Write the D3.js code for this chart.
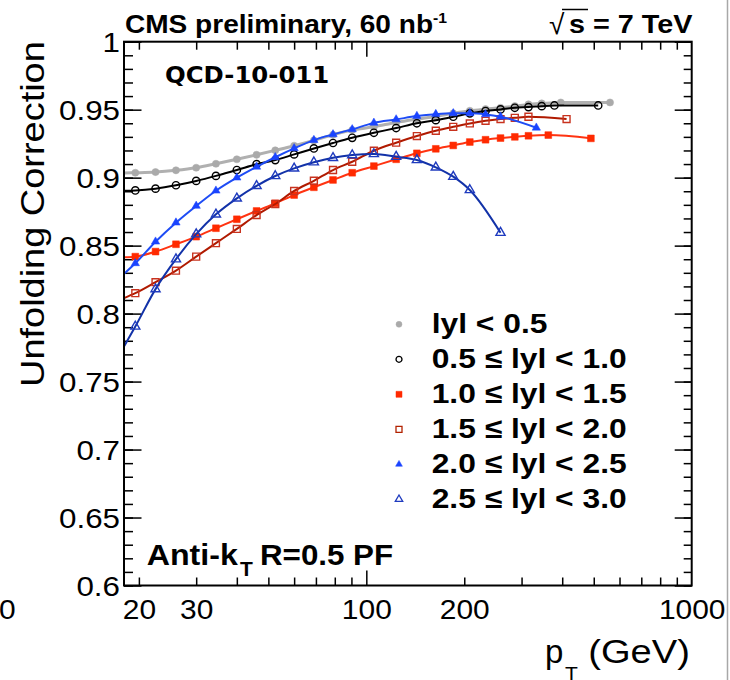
<!DOCTYPE html>
<html lang="en">
<head>
<meta charset="utf-8">
<title>Unfolding correction vs pT</title>
<script src="https://d3js.org/d3.v7.min.js"></script>
<style>
  body { margin: 0; background: #fff; }
  svg text { font-family: "Liberation Sans", Arial, Helvetica, sans-serif; fill: #000; }
</style>
</head>
<body>
<svg id="chart" width="730" height="680"></svg>
<script>
  // bin centres (GeV) and unfolding corrections, one pair of arrays per rapidity bin
  var ptY0 = [19.5, 22.5, 26, 30, 34.5, 40, 46, 52.5, 60, 69, 79, 90.5, 105.5, 123.5, 143, 163.5, 185, 208, 232.5, 258.5, 286, 315, 346, 396, 561];
  var corrY0 = [0.9036, 0.9041, 0.9054, 0.9073, 0.9102, 0.9135, 0.9168, 0.9201, 0.9235, 0.9274, 0.9315, 0.935, 0.9374, 0.9406, 0.943, 0.945, 0.9473, 0.9492, 0.9504, 0.9514, 0.9526, 0.9539, 0.9546, 0.9553, 0.9553];

  var ptY1 = [19.5, 22.5, 26, 30, 34.5, 40, 46, 52.5, 60, 69, 79, 90.5, 105.5, 123.5, 143, 163.5, 185, 208, 232.5, 258.5, 286, 315, 346, 378.5, 516];
  var corrY1 = [0.8906, 0.8919, 0.8944, 0.8976, 0.9013, 0.9056, 0.9099, 0.9129, 0.9171, 0.9215, 0.9255, 0.9293, 0.933, 0.9365, 0.94, 0.9423, 0.9448, 0.9473, 0.949, 0.9502, 0.9514, 0.9519, 0.9526, 0.9531, 0.9531];

  var ptY2 = [19.5, 22.5, 26, 30, 34.5, 40, 46, 52.5, 60, 69, 79, 90.5, 105.5, 123.5, 143, 163.5, 185, 208, 232.5, 258.5, 286, 315, 362.5, 490];
  var corrY2 = [0.8419, 0.8456, 0.851, 0.8566, 0.8628, 0.8694, 0.8755, 0.8811, 0.8872, 0.8929, 0.8983, 0.9036, 0.9085, 0.9135, 0.9179, 0.9212, 0.9237, 0.9262, 0.9279, 0.9291, 0.93, 0.9308, 0.9313, 0.9289];

  var ptY3 = [19.5, 22.5, 26, 30, 34.5, 40, 46, 52.5, 60, 69, 79, 90.5, 105.5, 123.5, 143, 163.5, 185, 208, 232.5, 258.5, 286, 315, 412.5];
  var corrY3 = [0.815, 0.8231, 0.8316, 0.8419, 0.8518, 0.8623, 0.8725, 0.8806, 0.8902, 0.8977, 0.9056, 0.9117, 0.9198, 0.9257, 0.9306, 0.9345, 0.9374, 0.9399, 0.9418, 0.9431, 0.944, 0.9448, 0.9431];

  var ptY4 = [19.5, 22.5, 26, 30, 34.5, 40, 46, 52.5, 60, 69, 79, 90.5, 105.5, 123.5, 143, 163.5, 185, 208, 232.5, 258.5, 333];
  var corrY4 = [0.837, 0.8529, 0.8669, 0.8792, 0.8904, 0.9, 0.908, 0.915, 0.9215, 0.9276, 0.9318, 0.9355, 0.9403, 0.9428, 0.9453, 0.9467, 0.9473, 0.9473, 0.9465, 0.9448, 0.9367];

  var ptY5 = [19.5, 22.5, 26, 30, 34.5, 40, 46, 52.5, 60, 69, 79, 90.5, 105.5, 123.5, 143, 163.5, 185, 208, 258.5];
  var corrY5 = [0.7905, 0.818, 0.84, 0.8584, 0.873, 0.8848, 0.894, 0.9012, 0.9068, 0.9113, 0.9146, 0.9166, 0.9174, 0.9154, 0.913, 0.9076, 0.9007, 0.8909, 0.8595];

  // value of each fit curve where it meets the left frame (pT = 18)
  var fitStart = [0.9034, 0.8904, 0.8415, 0.8114, 0.8292, 0.7758];

  var legendLabels = ["lyl < 0.5", "0.5 \u2264 lyl < 1.0", "1.0 \u2264 lyl < 1.5", "1.5 \u2264 lyl < 2.0", "2.0 \u2264 lyl < 2.5", "2.5 \u2264 lyl < 3.0"];

  var xTickLabels = [20, 30, 100, 200, 1000];
  var yTickLabels = [0.6, 0.65, 0.7, 0.75, 0.8, 0.85, 0.9, 0.95, 1];

  // styles
  var lineColors = ["#b0b0b0", "#000000", "#ff3311", "#b01a00", "#1e4cf5", "#1232a8"];
  var markColors = ["#aaaaaa", "#000000", "#ff2a00", "#c8321e", "#1a44ff", "#1f3bbf"];
  var lineWidths = [3, 2, 2, 2, 2, 2];
  var shapes = [d3.symbolCircle, d3.symbolCircle, d3.symbolSquare, d3.symbolSquare, d3.symbolTriangle, d3.symbolTriangle];
  var filled = [true, false, true, false, true, false];
  var markSize = [40, 42, 46, 48, 30, 36];
  var legendSize = [28, 28, 36, 36, 20, 24];

  var ptList = [ptY0, ptY1, ptY2, ptY3, ptY4, ptY5];
  var corrList = [corrY0, corrY1, corrY2, corrY3, corrY4, corrY5];

  // frame edges
  var frameL = 124, frameR = 691.7, frameT = 41.7, frameB = 585.5;

  var svg = d3.select("#chart");

  var x = d3.scaleLog().domain([18, 1000]).range([frameL, frameR]);
  var y = d3.scaleLinear().domain([0.6, 1]).range([frameB, frameT]);

  // helper for horizontally stretched text (the original font runs wide)
  function label(str, px, py, size, opts) {
    opts = opts || {};
    var sx = opts.sx || 1;
    var t = svg.append("text")
      .attr("transform", "translate(" + px + "," + py + ")" + (opts.rot ? " rotate(" + opts.rot + ")" : "") + " scale(" + sx + ",1)")
      .attr("font-size", size + "px")
      .attr("font-weight", opts.bold ? "bold" : "normal")
      .attr("text-anchor", opts.anchor || "start")
      .text(str);
    if (opts.family) t.style("font-family", opts.family);
    return t;
  }

  // tick values
  var xMinor = [20, 30, 40, 50, 60, 70, 80, 90, 200, 300, 400, 500, 600, 700, 800, 900];
  var xMajor = [100];
  var yMinor = d3.range(0.6, 1.0001, 0.01).map(function (d) { return +d.toFixed(2); });
  var yMajor = yTickLabels;

  function tickAxis(axis, pos, size, vals) {
    var g = svg.append("g")
      .attr("transform", pos)
      .call(axis.tickValues(vals).tickSizeInner(size).tickSizeOuter(0).tickFormat(""));
    g.select(".domain").remove();
    g.selectAll("line").attr("stroke", "#000").attr("stroke-width", 1.5);
    return g;
  }

  // bottom / top ticks
  tickAxis(d3.axisBottom(x), "translate(0," + frameB + ")", -8, xMinor);
  tickAxis(d3.axisBottom(x), "translate(0," + frameB + ")", -15, xMajor);
  tickAxis(d3.axisTop(x), "translate(0," + frameT + ")", -8, xMinor);
  tickAxis(d3.axisTop(x), "translate(0," + frameT + ")", -15, xMajor);
  // left / right ticks
  tickAxis(d3.axisLeft(y), "translate(" + frameL + ",0)", -9, yMinor);
  tickAxis(d3.axisLeft(y), "translate(" + frameL + ",0)", -17.5, yMajor);
  tickAxis(d3.axisRight(y), "translate(" + frameR + ",0)", -8, yMinor);
  tickAxis(d3.axisRight(y), "translate(" + frameR + ",0)", -17, yMajor);

  // tick labels
  var xLab = svg.append("g")
    .attr("transform", "translate(0," + frameB + ")")
    .call(d3.axisBottom(x).tickValues(xTickLabels).tickSize(0).tickFormat(function (d) { return String(d); }));
  xLab.select(".domain").remove();
  xLab.selectAll("text")
    .attr("y", 0).attr("dy", null)
    .attr("transform", "translate(0,33) scale(1.07,1)")
    .attr("font-size", "28px")
    .style("font-family", "'Liberation Sans', Arial, sans-serif")
    .attr("fill", "#000");

  var yLab = svg.append("g")
    .attr("transform", "translate(" + frameL + ",0)")
    .call(d3.axisLeft(y).tickValues(yTickLabels).tickSize(0).tickPadding(0).tickFormat(function (d) { return String(+d.toFixed(2)); }));
  yLab.select(".domain").remove();
  yLab.selectAll("text")
    .attr("x", 0).attr("dy", "0.36em")
    .attr("transform", "translate(-4,0) scale(1.12,1)")
    .attr("font-size", "28px")
    .style("font-family", "'Liberation Sans', Arial, sans-serif")
    .attr("fill", "#000");

  // series: fit curve then markers
  ptList.forEach(function (pts, i) {
    var vals = corrList[i];
    var linePts = [[18, fitStart[i]]].concat(pts.map(function (p, j) { return [p, vals[j]]; }));
    var line = d3.line()
      .x(function (d) { return x(d[0]); })
      .y(function (d) { return y(d[1]); })
      .curve(d3.curveMonotoneX);
    svg.append("path")
      .datum(linePts)
      .attr("d", line)
      .attr("fill", "none")
      .attr("stroke", lineColors[i])
      .attr("stroke-width", lineWidths[i]);

    svg.append("g").selectAll("path")
      .data(pts.map(function (p, j) { return [p, vals[j]]; }))
      .enter().append("path")
      .attr("transform", function (d) { return "translate(" + x(d[0]) + "," + y(d[1]) + ")"; })
      .attr("d", d3.symbol().type(shapes[i]).size(markSize[i]))
      .attr("fill", filled[i] ? markColors[i] : "none")
      .attr("stroke", markColors[i])
      .attr("stroke-width", filled[i] ? 0.5 : 1.4);
  });

  // frame
  svg.append("rect")
    .attr("x", frameL).attr("y", frameT)
    .attr("width", frameR - frameL).attr("height", frameB - frameT)
    .attr("fill", "none").attr("stroke", "#000").attr("stroke-width", 2);

  // legend
  legendLabels.forEach(function (txt, i) {
    var by = 333.3 + i * 35;
    svg.append("path")
      .attr("transform", "translate(399," + (by - 9) + ")")
      .attr("d", d3.symbol().type(shapes[i]).size(legendSize[i]))
      .attr("fill", filled[i] ? markColors[i] : "none")
      .attr("stroke", i === 3 ? "#b22200" : markColors[i])
      .attr("stroke-width", filled[i] ? 0.5 : 1.3);
    label(txt, 431.7, by, 28, { bold: true, sx: 1.135 });
  });

  // header texts
  label("CMS preliminary, 60 nb", 125, 33.3, 25.5, { bold: true, sx: 1.1 });
  label("-1", 433, 23, 15, { bold: true, sx: 1.05 });
  label("\u221A", 549, 34, 28, { sx: 1.0 });
  svg.append("line")
    .attr("x1", 562).attr("x2", 588).attr("y1", 9.5).attr("y2", 9.5)
    .attr("stroke", "#000").attr("stroke-width", 1.5);
  label("s = 7 TeV", 569, 33.3, 25.5, { bold: true, sx: 1.13 });

  label("QCD-10-011", 165, 83.3, 23, { bold: true, sx: 1.06, family: "'Comic Sans MS', 'DejaVu Sans', sans-serif" });

  label("Anti-k", 146.7, 565, 29, { bold: true, sx: 1.11 });
  label("T", 240, 576, 20, { bold: true, sx: 1.05 });
  label("R=0.5 PF", 260, 565, 29, { bold: true, sx: 1.08 });

  // axis titles
  label("Unfolding Correction", 43.5, 387, 33, { rot: -90, sx: 1.15 });
  label("p", 545, 663.3, 33, { sx: 1.0 });
  label("T", 565, 681, 21, { sx: 1.0 });
  label("(GeV)", 588.3, 663.3, 33, { sx: 1.155 });

  // cut-off label and border from the neighbouring panel
  label("0", -1, 618.5, 28, { sx: 1.07 });
  svg.append("line")
    .attr("x1", 727.5).attr("x2", 727.5).attr("y1", 0).attr("y2", 680)
    .attr("stroke", "#a8a8a8").attr("stroke-width", 1.5);
</script>
</body>
</html>
